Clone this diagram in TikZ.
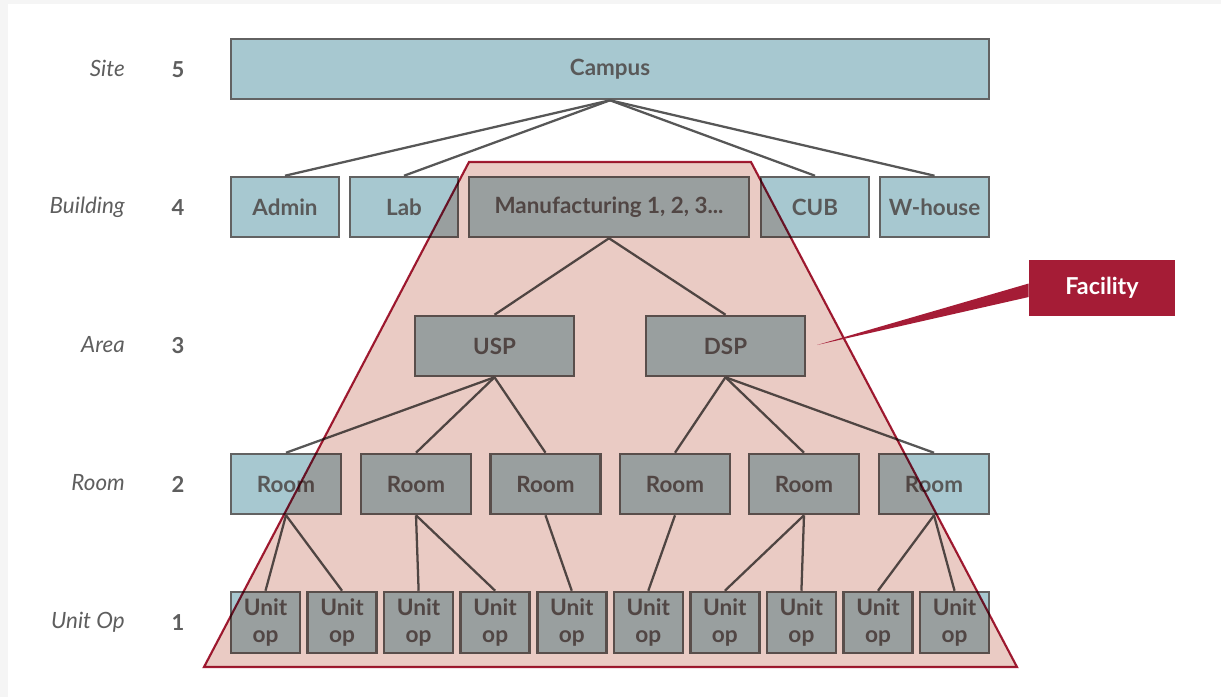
\documentclass[tikz,border=0pt]{standalone}
\usepackage{fontspec}
\setmainfont{Lato}
\usetikzlibrary{calc}

\definecolor{bggray}{HTML}{F5F5F5}
\definecolor{boxblue}{HTML}{A7C8D0}
\definecolor{boxline}{HTML}{626262}
\definecolor{wire}{HTML}{575757}
\definecolor{txtgray}{HTML}{595959}
\definecolor{lvlgray}{HTML}{5E5E5E}
\definecolor{facpink}{HTML}{EACBC4}
\definecolor{facred}{HTML}{A51C36}

\tikzset{
  box/.style={rectangle, draw=boxline, line width=1.9pt, fill=boxblue,
    text=txtgray, font=\fontsize{16.8}{19}\selectfont\bfseries,
    inner sep=0pt, minimum height=45pt},
  unitbox/.style={box, minimum width=51.75pt, minimum height=45.75pt,
    align=center, font=\fontsize{17}{20.3}\selectfont\bfseries},
  roombox/.style={box, minimum width=82.5pt},
  wirepath/.style={draw=wire, line width=1.7pt},
  lvlname/.style={anchor=east, inner sep=0pt, text=lvlgray,
    font=\fontsize{16.8}{19}\selectfont\itshape},
  lvlnum/.style={anchor=center, inner sep=0pt, text=lvlgray,
    font=\fontsize{16.5}{19}\selectfont\bfseries},
  callout/.style={rectangle, fill=facred, text=white, inner sep=0pt,
    minimum width=109.5pt, minimum height=42pt,
    font=\fontsize{17.5}{20}\selectfont\bfseries}
}

\begin{document}
\begin{tikzpicture}[x=0.75pt, y=-0.75pt]
  % page and frame
  \fill[bggray] (0,0) rectangle (1221,697);
  \fill[white] (8,4) rectangle (1221,697);
  \useasboundingbox (0,0) rectangle (1221,697);

  % level names and numbers
  \node[lvlname] (l5) at (125,68) {Site};
  \node[lvlname] (l4) at (125,207) {Building};
  \node[lvlname] (l3) at (125,345) {Area};
  \node[lvlname] (l2) at (125,483) {Room};
  \node[lvlname] (l1) at (125,622) {Unit Op};
  \node[lvlnum] (n5) at (178,70) {5};
  \node[lvlnum] (n4) at (178,208) {4};
  \node[lvlnum] (n3) at (178,346) {3};
  \node[lvlnum] (n2) at (178,484) {2};
  \node[lvlnum] (n1) at (178,623) {1};

  % level 5
  \node[box, minimum width=568.5pt] (campus) at (610,69) {Campus};

  % level 4
  \node[box, minimum width=81pt] (admin) at (285,207) {Admin};
  \node[box, minimum width=81pt] (lab) at (404,207) {Lab};
  \node[box, minimum width=210pt] (manu) at (609,207) {Manufacturing 1, 2, 3...};
  \node[box, minimum width=81pt] (cub) at (815,207) {CUB};
  \node[box, minimum width=81.75pt] (whouse) at (934.5,207) {W-house};

  % level 3
  \node[box, minimum width=119.25pt] (usp) at (494.5,346) {USP};
  \node[box, minimum width=119.25pt] (dsp) at (725.5,346) {DSP};

  % level 2
  \foreach \i/\x in {1/286,2/416,3/545.5,4/675,5/804,6/934}
    \node[roombox] (room\i) at (\x,484) {Room};

  % level 1
  \foreach \i in {1,...,10}
    \node[unitbox] (unit\i) at ({265.5+(\i-1)*76.56},622.5) {Unit\\op};

  % connectors
  \foreach \b in {admin,lab,cub,whouse}
    \draw[wirepath] (campus.south) -- (\b.north);
  \foreach \b in {usp,dsp}
    \draw[wirepath] (manu.south) -- (\b.north);
  \foreach \b in {room1,room2,room3}
    \draw[wirepath] (usp.south) -- (\b.north);
  \foreach \b in {room4,room5,room6}
    \draw[wirepath] (dsp.south) -- (\b.north);
  \foreach \a/\b in {room1/unit1,room1/unit2,room2/unit3,room2/unit4,
                     room3/unit5,room4/unit6,room5/unit7,room5/unit8,
                     room6/unit9,room6/unit10}
    \draw[wirepath] (\a.south) -- (\b.north);

  % facility region, tinted by multiplication
  \coordinate (ftl) at (469,162);
  \coordinate (ftr) at (751,162);
  \coordinate (fbr) at (1017,667);
  \coordinate (fbl) at (204,667);
  \begin{scope}[blend mode=multiply]
    \fill[facpink] (ftl) -- (ftr) -- (fbr) -- (fbl) -- cycle;
    \draw[facred, line width=1.6pt, line join=miter]
      (ftl) -- (ftr) -- (fbr) -- (fbl) -- cycle;
  \end{scope}

  % facility callout
  \node[callout] (fac) at (1102,288) {Facility};
  \coordinate (tip) at (817,345);
  \fill[facred] ($(fac.west)+(0,-4.5)$) -- (tip) -- ($(fac.west)+(0,9)$) -- cycle;
\end{tikzpicture}
\end{document}
